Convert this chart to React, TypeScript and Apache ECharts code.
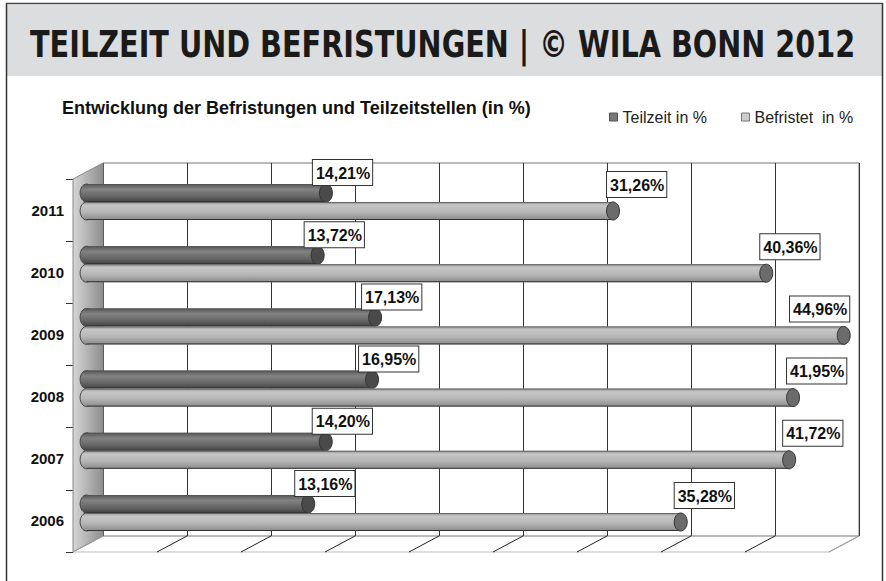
import React, { useEffect, useRef } from "react";
import * as echarts from "echarts";

// ---- data ----
const years = ["2006", "2007", "2008", "2009", "2010", "2011"];
const teilzeit = [13.16, 14.2, 16.95, 17.13, 13.72, 14.21];
const befristet = [35.28, 41.72, 41.95, 44.96, 40.36, 31.26];
const valueTicks = [0, 5, 10, 15, 20, 25, 30, 35, 40, 45];
const seriesNames = ["Teilzeit in %", "Befristet  in %"];
const mainTitle = "TEILZEIT UND BEFRISTUNGEN | \u00A9 WILA BONN 2012";
const subTitle = "Entwicklung der Befristungen und Teilzeitstellen (in %)";

// ---- layout ----
const W = 886;
const H = 581;
const FONT = '"Liberation Sans", Arial, Helvetica, sans-serif';
const BACK = { left: 103, top: 163, width: 756, height: 373 };
const DEPTH = { dx: -30, dy: 16 };
const BARS = { left: 86.6, top: 170.9, width: 757.8, height: 373.2 };
const BAR_H = 18;

const fmt = (v: number) => v.toFixed(2).replace(".", ",") + "%";

function measure(font: string, text: string) {
  const c = document.createElement("canvas").getContext("2d");
  if (!c) return 800;
  c.font = font;
  return c.measureText(text).width;
}

export default function App() {
  const ref = useRef<HTMLDivElement>(null);
  useEffect(() => {
    if (!ref.current) return;
    const chart = echarts.init(ref.current, undefined, { renderer: "svg" });

    const titleFont = 'bold 37px "DejaVu Sans Condensed", "Liberation Sans Narrow", "Liberation Sans", sans-serif';
    const titleScale = 825 / measure(titleFont, mainTitle);

    const backRight = BACK.left + BACK.width;
    const backBottom = BACK.top + BACK.height;

    const gradTeil = () =>
      new echarts.graphic.LinearGradient(0, 0, 0, 1, [
        { offset: 0, color: "#555555" },
        { offset: 0.3, color: "#838383" },
        { offset: 0.7, color: "#646464" },
        { offset: 1, color: "#424242" },
      ]);
    const gradBef = () =>
      new echarts.graphic.LinearGradient(0, 0, 0, 1, [
        { offset: 0, color: "#939393" },
        { offset: 0.18, color: "#c6c6c6" },
        { offset: 0.55, color: "#b8b8b8" },
        { offset: 1, color: "#8a8a8a" },
      ]);

    const renderBar = (kind: number) => (params: any, api: any) => {
      const v = api.value(0);
      const i = api.value(1);
      const p0 = api.coord([0, i]);
      const p1 = api.coord([v, i]);
      const cy = p0[1];
      const top = kind === 0 ? cy - BAR_H : cy;
      const ry = BAR_H / 2;
      const rx = 6.5;
      const x0 = p0[0];
      const x1 = p1[0];
      const g = kind === 0 ? gradTeil() : gradBef();
      return {
        type: "group",
        children: [
          { type: "ellipse", shape: { cx: x0, cy: top + ry, rx, ry }, style: { fill: g, stroke: "#444", lineWidth: 1 } },
          { type: "rect", shape: { x: x0, y: top, width: x1 - x0, height: BAR_H }, style: { fill: g } },
          { type: "line", shape: { x1: x0, y1: top + 0.5, x2: x1, y2: top + 0.5 }, style: { stroke: kind === 0 ? "#555" : "#666", lineWidth: 1 } },
          { type: "line", shape: { x1: x0, y1: top + BAR_H - 0.5, x2: x1, y2: top + BAR_H - 0.5 }, style: { stroke: "#333", lineWidth: 1 } },
          { type: "ellipse", shape: { cx: x1, cy: top + ry, rx, ry }, style: { fill: kind === 0 ? "#4a4a4a" : "#6b6b6b", stroke: "#333", lineWidth: 1 } },
        ],
      };
    };

    const renderLabel = (kind: number) => (params: any, api: any) => {
      const v = api.value(0);
      const i = api.value(1);
      const p = api.coord([v, i]);
      const cy = p[1];
      const boxW = 58;
      const off = kind === 0 ? -13 : -6;
      const left = Math.min(p[0] + off, backRight - 11 - boxW);
      const bottom = kind === 0 ? cy - 17 : cy - 5;
      return {
        type: "text",
        x: left,
        y: bottom,
        style: {
          text: fmt(v),
          font: `bold 16px ${FONT}`,
          fill: "#111",
          align: "left",
          verticalAlign: "bottom",
          backgroundColor: "#fff",
          borderColor: "#333",
          borderWidth: 1,
          padding: [5, 2, 4, 3],
        },
      };
    };

    const renderFloor = (params: any, api: any) => {
      const v = api.value(0);
      const p = api.coord([v, 0]);
      const isEdge = params.dataIndex === 0 || params.dataIndex === valueTicks.length - 1;
      const children: any[] = [
        {
          type: "line",
          shape: { x1: p[0], y1: p[1], x2: p[0] + DEPTH.dx, y2: p[1] + DEPTH.dy },
          style: { stroke: isEdge ? "#999" : "#222", lineWidth: 1 },
        },
      ];
      if (params.dataIndex === 0) {
        const pe = api.coord([valueTicks[valueTicks.length - 1], 0]);
        children.push({
          type: "line",
          shape: { x1: p[0] + DEPTH.dx, y1: p[1] + DEPTH.dy, x2: pe[0] + DEPTH.dx, y2: pe[1] + DEPTH.dy },
          style: { stroke: "#bbb", lineWidth: 1 },
        });
      }
      return { type: "group", children };
    };

    const option: any = {
      animation: false,
      backgroundColor: "#fff",
      title: {
        text: subTitle,
        left: 62,
        top: 99,
        padding: 0,
        textStyle: { fontSize: 18, fontWeight: "bold", fontFamily: FONT, color: "#111" },
      },
      legend: {
        left: 604,
        top: 104,
        itemWidth: 8,
        itemHeight: 8,
        itemGap: 34,
        icon: "rect",
        selectedMode: false,
        textStyle: { fontSize: 16, fontFamily: FONT, color: "#222" },
        data: [
          { name: seriesNames[0], itemStyle: { color: "#777", borderColor: "#555", borderWidth: 1 } },
          { name: seriesNames[1], itemStyle: { color: "#ccc", borderColor: "#777", borderWidth: 1 } },
        ],
      },
      grid: [
        { ...BACK, show: true, borderColor: "#777", borderWidth: 1, backgroundColor: "#fff" },
        { ...BARS },
        { left: BACK.left + DEPTH.dx, top: BACK.top + DEPTH.dy, width: BACK.width, height: BACK.height },
      ],
      xAxis: [
        {
          gridIndex: 0,
          type: "value",
          min: 0,
          max: 45,
          interval: 5,
          axisLine: { show: false },
          axisTick: { show: false },
          axisLabel: { show: false },
          splitLine: { show: true, lineStyle: { color: "#333", width: 1 } },
        },
        { gridIndex: 1, type: "value", min: 0, max: 45, interval: 5, show: false },
        { gridIndex: 2, type: "value", min: 0, max: 45, interval: 5, show: false },
      ],
      yAxis: [
        { gridIndex: 0, type: "value", min: 0, max: 1, show: false },
        { gridIndex: 1, type: "category", data: years, show: false },
        {
          gridIndex: 2,
          type: "category",
          data: years,
          axisLine: { show: false },
          axisTick: { show: true, length: 7, lineStyle: { color: "#333" } },
          axisLabel: { margin: 9, fontSize: 15, fontWeight: "bold", fontFamily: FONT, color: "#111" },
          splitLine: { show: false },
        },
      ],
      graphic: [
        { type: "rect", z: 0, shape: { x: 7, y: 5, width: 875, height: 71 }, style: { fill: "#dcdddf" } },
        {
          type: "text",
          z: 1,
          x: 30,
          y: 44,
          scaleX: titleScale,
          style: { text: mainTitle, font: titleFont, fill: "#1a1a1a", align: "left", verticalAlign: "middle" },
        },
        { type: "line", z: 1, shape: { x1: 6.5, y1: 3, x2: 6.5, y2: H }, style: { stroke: "#333", lineWidth: 1.5 } },
        { type: "line", z: 1, shape: { x1: 882.5, y1: 3, x2: 882.5, y2: H }, style: { stroke: "#333", lineWidth: 1.5 } },
        { type: "line", z: 1, shape: { x1: 6, y1: 3.5, x2: 883, y2: 3.5 }, style: { stroke: "#444", lineWidth: 1.5 } },
        {
          type: "polygon",
          z: 1,
          shape: {
            points: [
              [BACK.left + DEPTH.dx, BACK.top + DEPTH.dy],
              [BACK.left, BACK.top],
              [BACK.left, backBottom],
              [BACK.left + DEPTH.dx, backBottom + DEPTH.dy],
            ],
          },
          style: {
            fill: new echarts.graphic.LinearGradient(0, 0, 1, 0, [
              { offset: 0, color: "#d6d6d6" },
              { offset: 1, color: "#8e8e8e" },
            ]),
            stroke: "#888",
            lineWidth: 1,
          },
        },
        {
          type: "line",
          z: 1,
          shape: { x1: backRight, y1: backBottom, x2: backRight + DEPTH.dx, y2: backBottom + DEPTH.dy },
          style: { stroke: "#aaa", lineWidth: 1 },
        },
      ],
      series: [
        {
          type: "custom",
          name: "floor",
          xAxisIndex: 0,
          yAxisIndex: 0,
          z: 1,
          silent: true,
          renderItem: renderFloor,
          data: valueTicks.map((t) => [t]),
          encode: { x: 0 },
        },
        {
          type: "custom",
          name: seriesNames[0],
          xAxisIndex: 1,
          yAxisIndex: 1,
          z: 3,
          itemStyle: { color: "#777" },
          renderItem: renderBar(0),
          data: teilzeit.map((v, i) => [v, i]),
          encode: { x: 0, y: 1 },
        },
        {
          type: "custom",
          name: seriesNames[1],
          xAxisIndex: 1,
          yAxisIndex: 1,
          z: 3,
          itemStyle: { color: "#ccc" },
          renderItem: renderBar(1),
          data: befristet.map((v, i) => [v, i]),
          encode: { x: 0, y: 1 },
        },
        {
          type: "custom",
          name: "labels-teilzeit",
          xAxisIndex: 1,
          yAxisIndex: 1,
          z: 5,
          renderItem: renderLabel(0),
          data: teilzeit.map((v, i) => [v, i]),
          encode: { x: 0, y: 1 },
        },
        {
          type: "custom",
          name: "labels-befristet",
          xAxisIndex: 1,
          yAxisIndex: 1,
          z: 5,
          renderItem: renderLabel(1),
          data: befristet.map((v, i) => [v, i]),
          encode: { x: 0, y: 1 },
        },
      ],
    };

    chart.setOption(option);
    return () => chart.dispose();
  }, []);

  return <div ref={ref} style={{ position: "fixed", left: 0, top: 0, width: W, height: H }} />;
}
